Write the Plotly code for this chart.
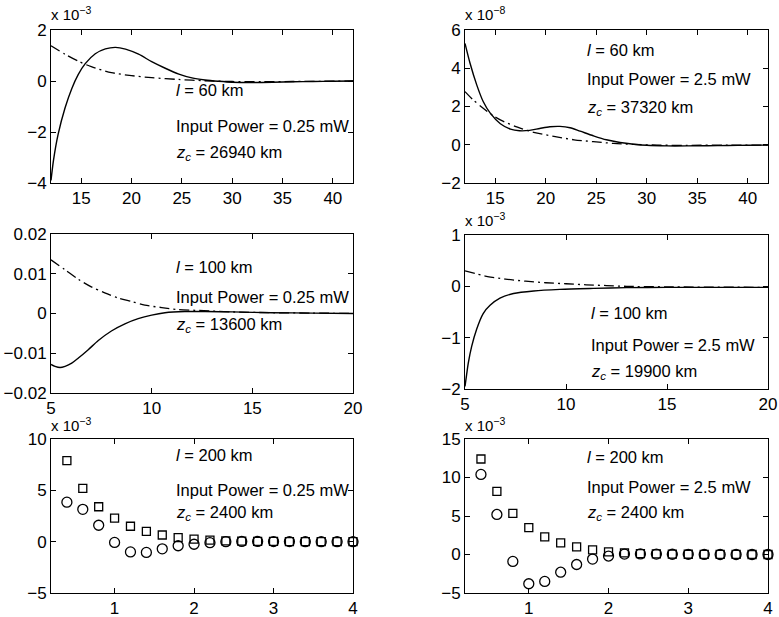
import plotly.graph_objects as go

W, H = 779, 617

# ---------------- data ----------------
# Top-left: l = 60 km, 0.25 mW (values in units of 1e-3)
tl_solid_x = [12.0, 12.25, 12.7, 13.4, 14.06, 14.7, 15.4, 16.4, 17.4, 18.4, 19.4, 20.7, 22.0, 23.35, 24.7, 26.0, 27.3, 28.6, 30, 32, 34, 36, 38, 40, 42]
tl_solid_y = [-3.9, -3.1, -2.1, -1.05, -0.3, 0.25, 0.68, 1.07, 1.26, 1.32, 1.25, 1.05, 0.76, 0.5, 0.27, 0.12, 0.04, -0.01, -0.05, -0.06, -0.05, -0.03, -0.02, -0.01, 0.0]
tl_dash_x = [12.0, 13.4, 14.7, 16.0, 18.0, 20.0, 22.0, 24.7, 27.3, 30, 33, 36, 39, 42]
tl_dash_y = [1.38, 1.05, 0.78, 0.56, 0.33, 0.21, 0.13, 0.06, 0.01, -0.02, -0.03, -0.02, -0.01, 0.0]

# Top-right: l = 60 km, 2.5 mW (units of 1e-8)
tr_solid_x = [12.0, 12.5, 13.16, 13.8, 14.5, 15.5, 16.5, 17.4, 18.4, 19.4, 20.4, 21.4, 22.4, 23.4, 24.7, 26.0, 27.35, 28.7, 30, 32, 34, 36, 38, 40, 42]
tr_solid_y = [5.3, 4.26, 3.13, 2.26, 1.65, 1.1, 0.82, 0.73, 0.75, 0.85, 0.94, 0.96, 0.89, 0.71, 0.47, 0.26, 0.12, 0.03, -0.03, -0.06, -0.06, -0.05, -0.04, -0.03, -0.02]
tr_dash_x = [12.0, 12.8, 13.8, 14.8, 15.8, 17.2, 18.8, 20.8, 22.8, 24.7, 26.7, 28.7, 31, 34, 38, 42]
tr_dash_y = [2.78, 2.35, 1.91, 1.51, 1.22, 0.92, 0.65, 0.44, 0.26, 0.16, 0.07, 0.02, -0.02, -0.03, -0.02, -0.02]

# Middle-left: l = 100 km, 0.25 mW (raw values)
ml_solid_x = [5.0, 5.2, 5.45, 5.7, 6.03, 6.36, 6.85, 7.35, 8.0, 8.67, 9.33, 10.0, 10.66, 11.65, 12.65, 14, 16, 18, 20]
ml_solid_y = [-0.0128, -0.0133, -0.0136, -0.0133, -0.0125, -0.0112, -0.0091, -0.0068, -0.0044, -0.0026, -0.0013, -0.0004, 0.0002, 0.0005, 0.0005, 0.0004, 0.0002, 0.0001, 0.0]
ml_dash_x = [5.0, 5.7, 6.36, 7.0, 7.67, 8.33, 9.0, 9.66, 10.5, 11.3, 12.15, 13, 14, 16, 18, 20]
ml_dash_y = [0.0135, 0.011, 0.0086, 0.0067, 0.0052, 0.0039, 0.003, 0.0021, 0.0015, 0.001, 0.0008, 0.0006, 0.0004, 0.0002, 0.0001, 0.0]

# Middle-right: l = 100 km, 2.5 mW (units of 1e-3)
mr_solid_x = [5.0, 5.08, 5.16, 5.33, 5.58, 5.9, 6.24, 6.73, 7.4, 8.4, 9.7, 11.35, 13, 15, 17, 20]
mr_solid_y = [-1.95, -1.72, -1.5, -1.17, -0.83, -0.53, -0.37, -0.23, -0.14, -0.09, -0.06, -0.04, -0.025, -0.02, -0.02, -0.02]
mr_dash_x = [5, 5.5, 6, 7, 8, 9, 10, 11, 12, 13, 15, 20]
mr_dash_y = [0.3, 0.25, 0.2, 0.14, 0.1, 0.07, 0.05, 0.03, 0.015, 0.0, -0.01, -0.02]

# Bottom: l = 200 km (units of 1e-3)
b_x = [0.4, 0.6, 0.8, 1.0, 1.2, 1.4, 1.6, 1.8, 2.0, 2.2, 2.4, 2.6, 2.8, 3.0, 3.2, 3.4, 3.6, 3.8, 4.0]
bl_sq = [7.9, 5.2, 3.4, 2.3, 1.5, 1.0, 0.65, 0.4, 0.25, 0.15, 0.08, 0.05, 0.03, 0.02, 0.01, 0.01, 0.0, 0.0, 0.0]
bl_ci = [3.85, 3.15, 1.6, -0.07, -1.0, -1.05, -0.7, -0.4, -0.25, -0.1, 0.0, 0.02, 0.02, 0.01, 0.01, 0.0, 0.0, 0.0, 0.0]
br_sq = [12.4, 8.2, 5.35, 3.5, 2.3, 1.5, 1.0, 0.6, 0.35, 0.2, 0.12, 0.08, 0.05, 0.03, 0.02, 0.01, 0.01, 0.0, 0.0]
br_ci = [10.4, 5.2, -0.9, -3.8, -3.5, -2.3, -1.3, -0.6, -0.2, 0.05, 0.08, 0.05, 0.03, 0.02, 0.01, 0.0, 0.0, 0.0, 0.0]

# panel texts
panel_l = ["60", "60", "100", "100", "200", "200"]
panel_p = ["0.25", "2.5", "0.25", "2.5", "0.25", "2.5"]
panel_z = ["26940", "37320", "13600", "19900", "2400", "2400"]
panel_exp = ["−3", "−8", None, "−3", "−3", "−3"]

# ---------------- layout geometry (pixels) ----------------
boxes = [  # x0, x1, ytop, ybottom
    (51, 353, 30, 183),
    (465, 768, 30, 183),
    (51, 353, 234, 393),
    (465, 768, 235, 389),
    (51, 353, 439, 593),
    (465, 768, 439, 593),
]
xranges = [[12, 42], [12, 42], [5, 20], [5, 20], [0.2, 4], [0.2, 4]]
xticks = [[15, 20, 25, 30, 35, 40]] * 2 + [[5, 10, 15, 20]] * 2 + [[1, 2, 3, 4]] * 2
yranges = [[-4, 2], [-2, 6], [-0.02, 0.02], [-2, 1], [-5, 10], [-5, 15]]
yticks = [[-4, -2, 0, 2], [-2, 0, 2, 4, 6], [-0.02, -0.01, 0, 0.01, 0.02],
          [-2, -1, 0, 1], [-5, 0, 5, 10], [-5, 0, 5, 10, 15]]
ytext = [["−4", "−2", "0", "2"], ["−2", "0", "2", "4", "6"],
         ["−0.02", "−0.01", "0", "0.01", "0.02"], ["−2", "−1", "0", "1"],
         ["−5", "0", "5", "10"], ["−5", "0", "5", "10", "15"]]
# text positions: (x px, y px of l-line, power line, zc line)
text_pos = [
    (174, 90, 126, 153),
    (585, 50, 79, 108),
    (174, 267, 297, 325),
    (589, 313, 345, 372),
    (174, 455, 490, 513),
    (585, 457, 487, 513),
]
exp_pos = [(49, 25), (463, 25), None, (463, 231), (49, 436), (463, 436)]

FONT = "Liberation Sans, Arial, Helvetica, sans-serif"
fig = go.Figure()

line_specs = [
    (tl_solid_x, tl_solid_y, tl_dash_x, tl_dash_y),
    (tr_solid_x, tr_solid_y, tr_dash_x, tr_dash_y),
    (ml_solid_x, ml_solid_y, ml_dash_x, ml_dash_y),
    (mr_solid_x, mr_solid_y, mr_dash_x, mr_dash_y),
]
for i, (sx, sy, dx, dy) in enumerate(line_specs):
    ax = "" if i == 0 else str(i + 1)
    fig.add_trace(go.Scatter(x=sx, y=sy, mode="lines", line=dict(color="black", width=1.4, shape="spline", smoothing=0.8),
                             xaxis="x" + ax, yaxis="y" + ax, showlegend=False, hoverinfo="skip"))
    fig.add_trace(go.Scatter(x=dx, y=dy, mode="lines", line=dict(color="black", width=1.3, shape="spline", smoothing=0.8, dash="10px,4px,2px,4px"),
                             xaxis="x" + ax, yaxis="y" + ax, showlegend=False, hoverinfo="skip"))

for i, (sq, ci) in enumerate([(bl_sq, bl_ci), (br_sq, br_ci)]):
    ax = str(i + 5)
    fig.add_trace(go.Scatter(x=b_x, y=sq, mode="markers", cliponaxis=False,
                             marker=dict(symbol="square-open", size=8, color="black", line=dict(width=1.3)),
                             xaxis="x" + ax, yaxis="y" + ax, showlegend=False))
    fig.add_trace(go.Scatter(x=b_x, y=ci, mode="markers", cliponaxis=False,
                             marker=dict(symbol="circle-open", size=10, color="black", line=dict(width=1.3)),
                             xaxis="x" + ax, yaxis="y" + ax, showlegend=False))

layout = dict(width=W, height=H, autosize=False, margin=dict(l=0, r=0, t=0, b=0, pad=0),
              paper_bgcolor="white", plot_bgcolor="white",
              font=dict(family=FONT, size=17, color="black"), showlegend=False)
annotations = []
for i, (x0, x1, yt, yb) in enumerate(boxes):
    n = "" if i == 0 else str(i + 1)
    common = dict(showline=True, linecolor="black", linewidth=1, mirror="allticks", ticks="inside",
                  ticklen=5, tickcolor="black", showgrid=False, zeroline=False, automargin=False,
                  tickfont=dict(family=FONT, size=17, color="black"))
    layout["xaxis" + n] = dict(domain=[x0 / W, x1 / W], range=xranges[i], tickvals=xticks[i],
                               anchor="y" + n, **common)
    layout["yaxis" + n] = dict(domain=[1 - yb / H, 1 - yt / H], range=yranges[i], tickvals=yticks[i],
                               ticktext=ytext[i], anchor="x" + n, **common)
    tx, y1, y2, y3 = text_pos[i]
    for yy, txt in [(y1, f"<i>l</i> = {panel_l[i]} km"),
                    (y2, f"Input Power = {panel_p[i]} mW"),
                    (y3, f"<i>z</i><sub><i>c</i></sub> = {panel_z[i]} km")]:
        annotations.append(dict(x=tx / W, y=1 - yy / H, xref="paper", yref="paper", text=txt,
                                showarrow=False, xanchor="left", yanchor="middle",
                                font=dict(family=FONT, size=16.5, color="black")))
    if panel_exp[i]:
        ex, ey = exp_pos[i]
        annotations.append(dict(x=ex / W, y=1 - ey / H, xref="paper", yref="paper",
                                text=f"x 10<sup>{panel_exp[i]}</sup>", showarrow=False,
                                xanchor="left", yanchor="bottom",
                                font=dict(family=FONT, size=15, color="black")))
layout["annotations"] = annotations
fig.update_layout(**layout)
fig.write_html("out.html", config={"displayModeBar": False},
               post_script="document.body.style.margin='0px';document.body.style.padding='0px';document.body.style.overflow='hidden';")
